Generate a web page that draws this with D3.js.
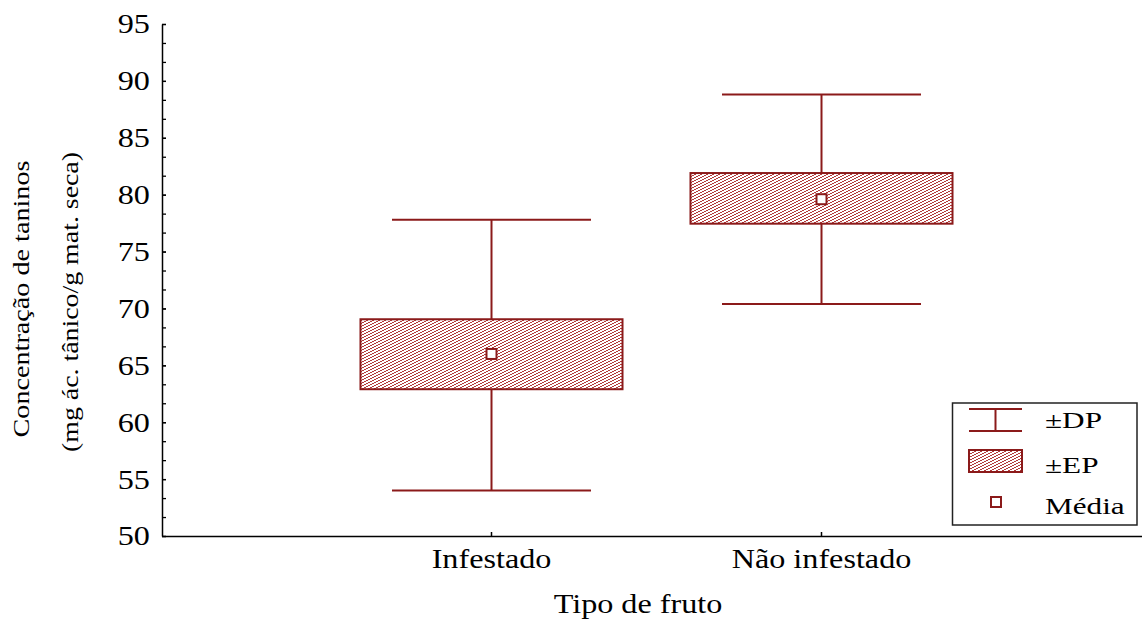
<!DOCTYPE html>
<html><head><meta charset="utf-8">
<script src="https://cdn.jsdelivr.net/npm/d3@7"></script>
<style>
body{margin:0;background:#fff}
svg{display:block}
text{font-family:"Liberation Serif","Times New Roman",serif;fill:#000}
</style>
</head><body>
<svg id="c" width="1142" height="619"></svg>
<script>
// ---- data ----
const categories = ["Infestado", "Não infestado"];
const means   = [66.0, 79.6];
const sePlus  = [69.05, 81.9];
const seMinus = [62.9, 77.45];
const sdPlus  = [77.8, 88.8];
const sdMinus = [54.0, 70.4];
const yTicks = [50, 55, 60, 65, 70, 75, 80, 85, 90, 95];
const legendLabels = ["±DP", "±EP", "Média"];
const xTitle = "Tipo de fruto";
const yTitle = ["Concentração de taninos", "(mg ác. tânico/g mat. seca)"];

// ---- styles ----
const RED = "#8b1a1a";
const svg = d3.select("#c");

const y = d3.scaleLinear().domain([50, 95]).range([536, 24]);
const x = d3.scaleBand().domain(categories).range([161.5, 1151.5]).paddingOuter(0.5).paddingInner(0);
const bw = x.bandwidth();
const boxW = bw * 0.794, capW = bw * 0.603;

// pattern
const defs = svg.append("defs");
const pat = defs.append("pattern").attr("id", "hatch").attr("patternUnits", "userSpaceOnUse")
  .attr("width", 6).attr("height", 3);
pat.append("rect").attr("width", 6).attr("height", 3).attr("fill", "#fff");
[[0, 2], [2, 1], [4, 0]].forEach(([px, py]) =>
  pat.append("rect").attr("x", px).attr("y", py).attr("width", 2).attr("height", 1).attr("fill", "#b23a3a"));

// axes
const minor = d3.range(0, 28).map(i => 50 + i * 5 / 3);
svg.append("g").attr("transform", "translate(162,0)")
  .call(d3.axisLeft(y).tickValues(minor).tickSize(-4).tickFormat("").tickSizeOuter(0))
  .call(g => g.select(".domain").remove())
  .call(g => g.selectAll("line").attr("stroke", "#000").attr("stroke-width", 1.3));

const yAx = svg.append("g").attr("transform", "translate(162,0)")
  .call(d3.axisLeft(y).tickValues(yTicks).tickSize(-4).tickSizeOuter(0).tickPadding(10.5));
yAx.select(".domain").attr("stroke", "#000").attr("stroke-width", 1.5);
yAx.selectAll("line").attr("stroke", "#000").attr("stroke-width", 1.3);
yAx.selectAll("text").attr("font-size", 28).attr("font-family", "Liberation Serif")
  .attr("fill", "#000").attr("transform", "scale(1.15,1)");

const xAx = svg.append("g").attr("transform", "translate(0,536)")
  .call(d3.axisBottom(x).tickSize(-4).tickSizeOuter(0).tickPadding(12));
xAx.select(".domain").attr("stroke", "#000").attr("stroke-width", 1.5);
xAx.selectAll("line").attr("stroke", "#000").attr("stroke-width", 1.5);
xAx.selectAll("text").attr("font-size", 28).attr("font-family", "Liberation Serif")
  .attr("fill", "#000").attr("transform", "scale(1.15,1)");

// titles
svg.append("text").attr("transform", "translate(638,613) scale(1.15,1)")
  .attr("text-anchor", "middle").attr("font-size", 28).text(xTitle);
svg.append("text").attr("transform", "translate(29,299) rotate(-90)")
  .attr("text-anchor", "middle").attr("font-size", 24)
  .attr("textLength", 277).attr("lengthAdjust", "spacingAndGlyphs").text(yTitle[0]);
svg.append("text").attr("transform", "translate(78,302) rotate(-90)")
  .attr("text-anchor", "middle").attr("font-size", 24)
  .attr("textLength", 300).attr("lengthAdjust", "spacingAndGlyphs").text(yTitle[1]);

// marks
const g = svg.append("g");
categories.forEach((c, i) => {
  const cx = x(c) + bw / 2;
  const line = (x1, y1, x2, y2) => g.append("line").attr("x1", x1).attr("y1", y1)
    .attr("x2", x2).attr("y2", y2).attr("stroke", RED).attr("stroke-width", 2);
  // whiskers
  line(cx, y(sdPlus[i]), cx, y(sePlus[i]));
  line(cx, y(seMinus[i]), cx, y(sdMinus[i]));
  line(cx - capW / 2, y(sdPlus[i]), cx + capW / 2, y(sdPlus[i]));
  line(cx - capW / 2, y(sdMinus[i]), cx + capW / 2, y(sdMinus[i]));
  // box
  g.append("rect").attr("x", cx - boxW / 2).attr("y", y(sePlus[i]))
    .attr("width", boxW).attr("height", y(seMinus[i]) - y(sePlus[i]))
    .attr("fill", "url(#hatch)").attr("stroke", RED).attr("stroke-width", 2);
  // mean
  g.append("rect").attr("x", cx - 5).attr("y", y(means[i]) - 5).attr("width", 10).attr("height", 10)
    .attr("fill", "#fff").attr("stroke", RED).attr("stroke-width", 2);
});

// legend
const lg = svg.append("g");
lg.append("rect").attr("x", 952.5).attr("y", 403).attr("width", 184.5).attr("height", 122)
  .attr("fill", "#fff").attr("stroke", "#222").attr("stroke-width", 1.5);
const l = (x1, y1, x2, y2) => lg.append("line").attr("x1", x1).attr("y1", y1).attr("x2", x2).attr("y2", y2)
  .attr("stroke", RED).attr("stroke-width", 2);
l(969, 409, 1022, 409); l(969, 431, 1022, 431); l(995.5, 409, 995.5, 431);
lg.append("rect").attr("x", 969).attr("y", 450).attr("width", 53).attr("height", 22)
  .attr("fill", "url(#hatch)").attr("stroke", RED).attr("stroke-width", 2);
lg.append("rect").attr("x", 991).attr("y", 497).attr("width", 10).attr("height", 10)
  .attr("fill", "#fff").attr("stroke", RED).attr("stroke-width", 2);
const ly = [428, 473, 514];
legendLabels.forEach((t, i) => {
  lg.append("text").attr("transform", `translate(1045,${ly[i]}) scale(1.3,1)`)
    .attr("font-size", 24).text(t);
});
</script>
</body></html>
